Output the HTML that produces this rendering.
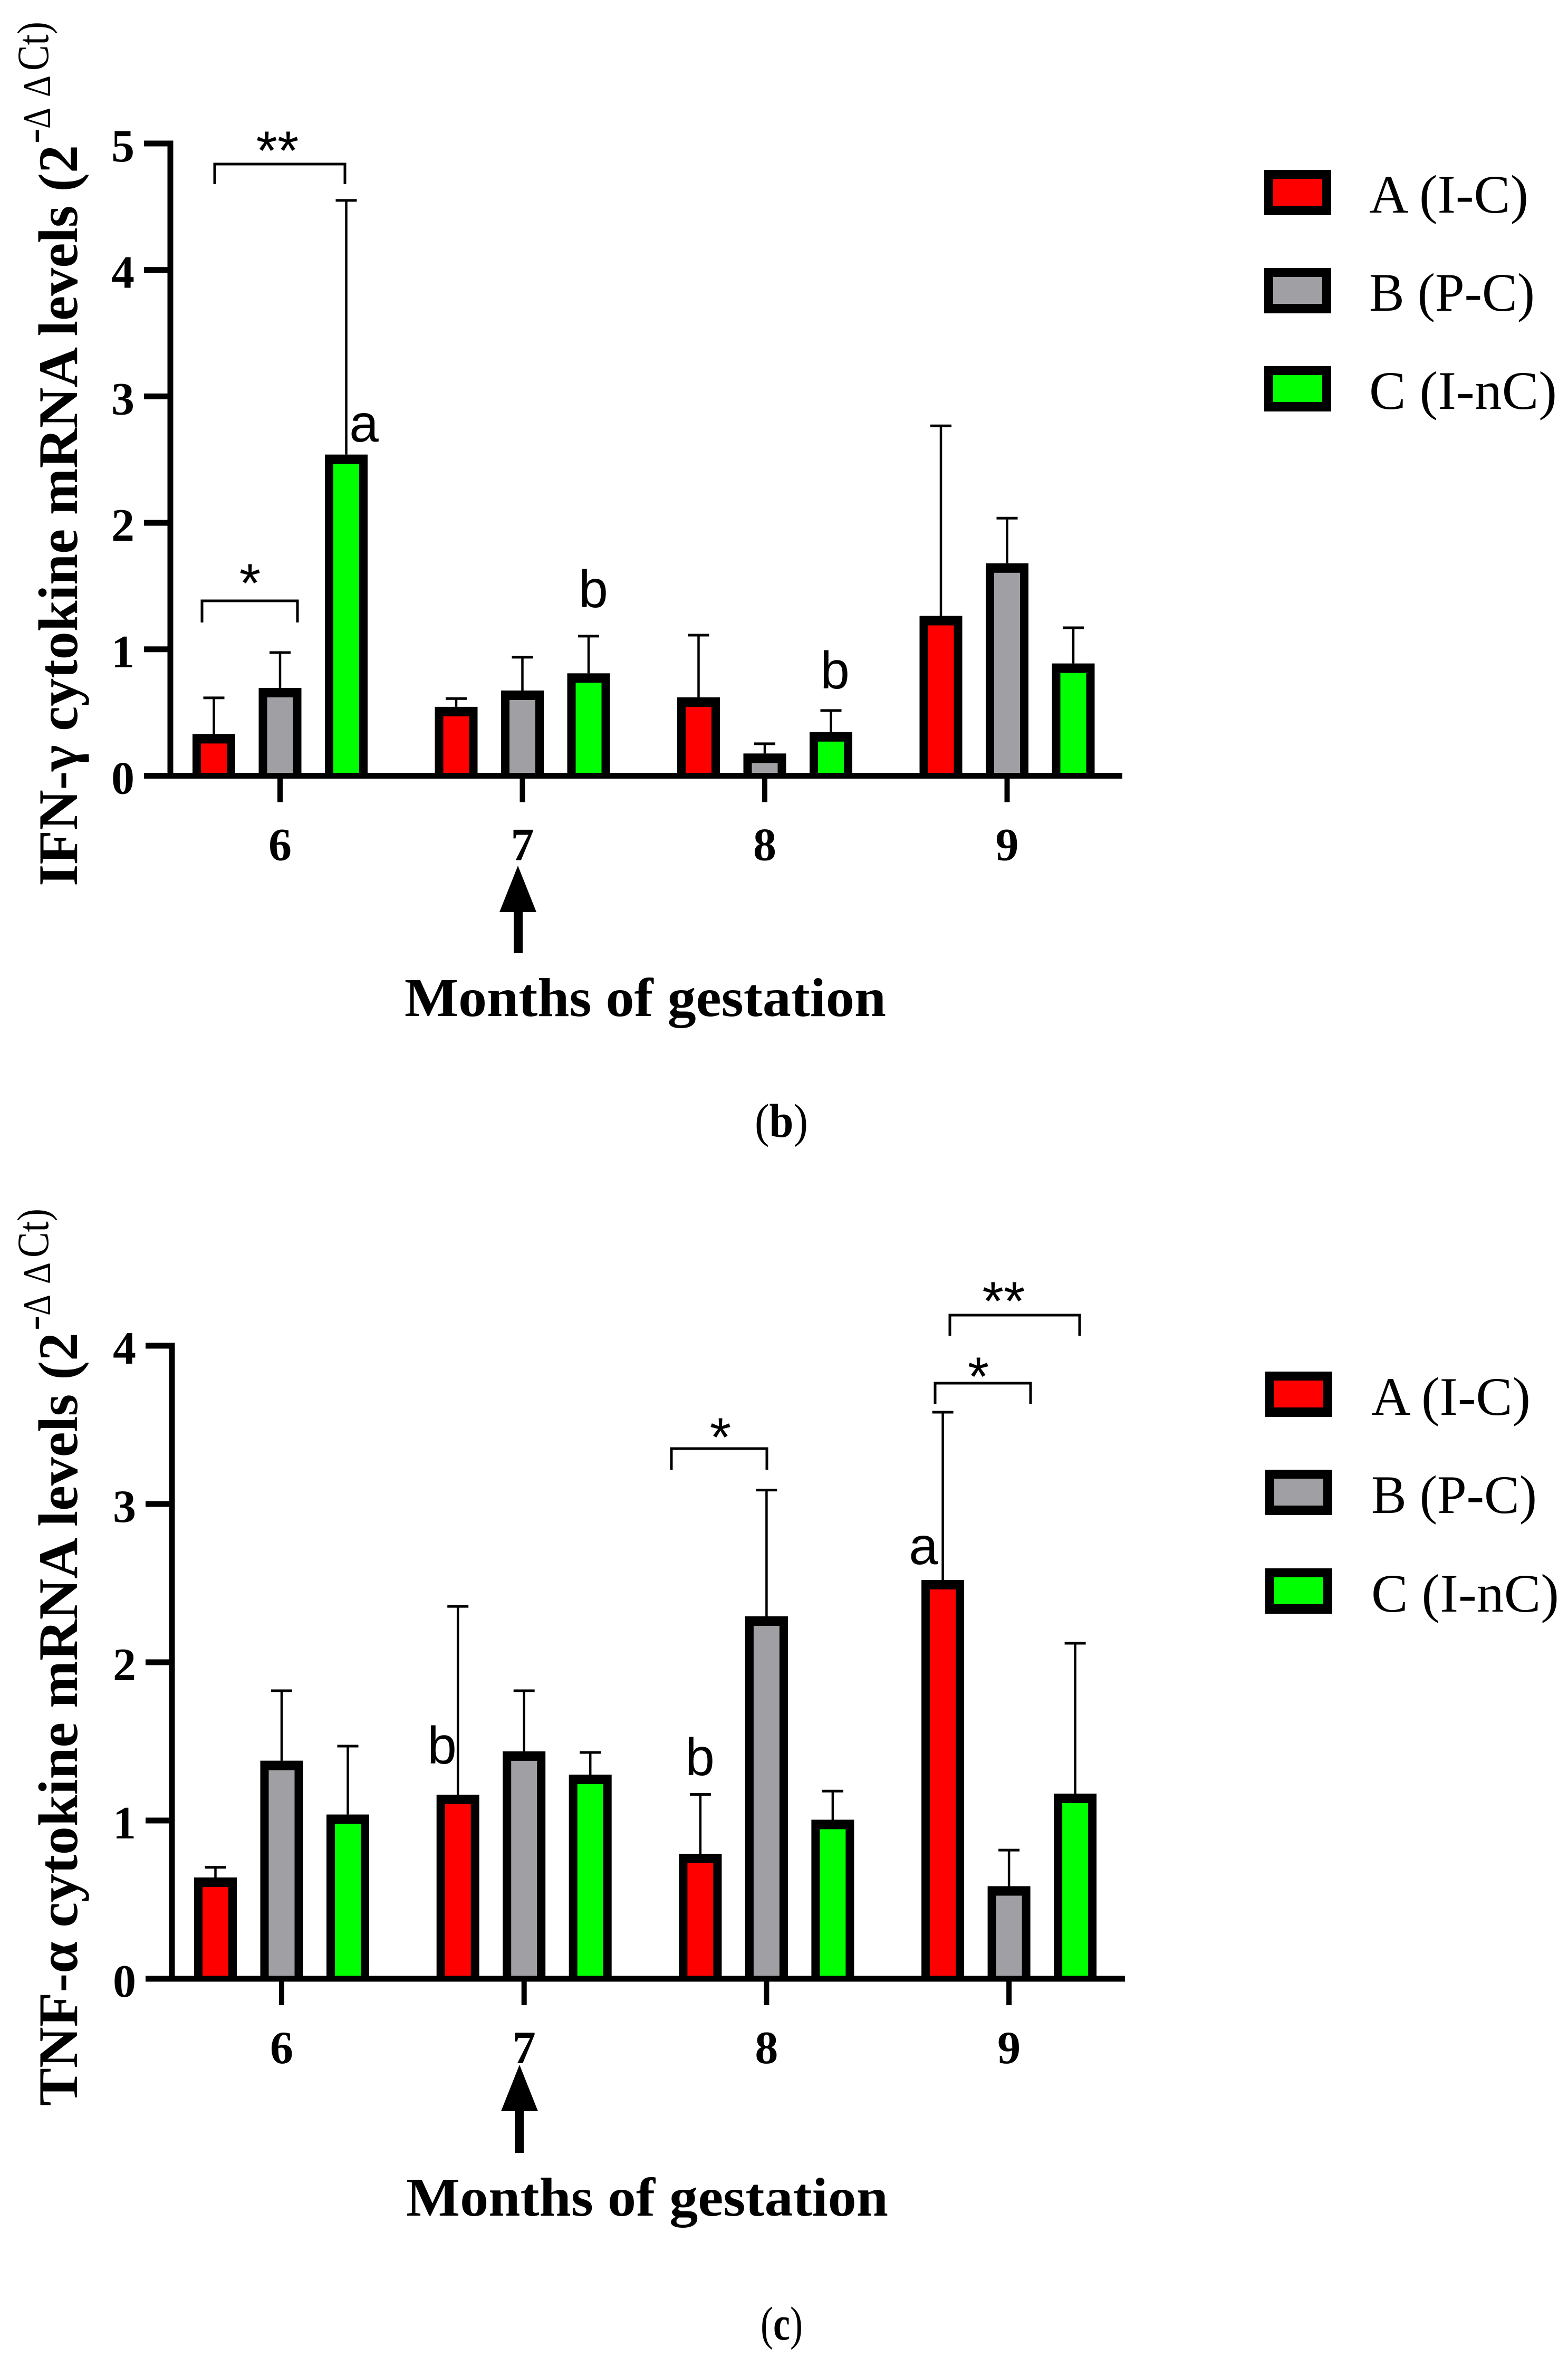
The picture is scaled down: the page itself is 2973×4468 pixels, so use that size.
<!DOCTYPE html>
<html lang="en">
<head>
<meta charset="utf-8">
<title>Cytokine mRNA levels across months of gestation</title>
<style>
html,body{margin:0;padding:0;background:#fff;}
svg{display:block;}
.serif{font-family:"Liberation Serif",serif;fill:#000;}
.bold{font-weight:bold;}
.sans{font-family:"Liberation Sans",sans-serif;fill:#000;}
.star{font-size:104px;text-anchor:middle;}
.letter{font-size:100px;text-anchor:middle;}
.legend-text{font-size:103px;}
.tick-label{font-size:88px;font-weight:bold;}
.bracket{fill:none;stroke:#000;stroke-width:5;}
</style>
</head>
<body>
<svg id="figure" xmlns="http://www.w3.org/2000/svg" width="2973" height="4468" viewBox="0 0 2973 4468">
  <rect x="0" y="0" width="2973" height="4468" fill="#ffffff"/>

  <!-- Panel b static annotations -->
  <g id="panel-b">
    <text class="serif bold" font-size="106" transform="translate(146,1680) rotate(-90)" textLength="1405" lengthAdjust="spacingAndGlyphs">IFN-γ cytokine mRNA levels (2</text>
    <g>
      <text class="serif" font-size="85" transform="translate(91,272) rotate(-90)">-</text>
      <text class="serif" font-size="74" transform="translate(95,244) rotate(-90)" textLength="40" lengthAdjust="spacingAndGlyphs">Δ</text>
      <text class="serif" font-size="74" transform="translate(95,184) rotate(-90)" textLength="41" lengthAdjust="spacingAndGlyphs">Δ</text>
      <text class="serif" font-size="85" transform="translate(91,134) rotate(-90)" textLength="93" lengthAdjust="spacingAndGlyphs">Ct)</text>
    </g>
    <path class="bracket" d="M407 349V311H654V349"/>
    <text class="sans star" x="526" y="321">**</text>
    <path class="bracket" d="M383 1180V1139H564V1180"/>
    <text class="sans star" x="474" y="1141">*</text>
    <text class="sans letter" x="690" y="837">a</text>
    <text class="sans letter" x="1125" y="1151">b</text>
    <text class="sans letter" x="1583" y="1305">b</text>
    <path fill="#000" d="M982 1641L1017 1729H991V1807H974V1729H947Z"/>
    <text class="serif bold" font-size="104" x="767" y="1926" textLength="913" lengthAdjust="spacingAndGlyphs">Months of gestation</text>
    <text class="serif" font-size="90" x="1431" y="2155" textLength="101" lengthAdjust="spacingAndGlyphs">(<tspan class="bold">b</tspan>)</text>
    <g>
      <g>
        <rect x="2397" y="322" width="127" height="86" fill="#000"/>
        <rect x="2414" y="339" width="93" height="51" fill="#ff0000"/>
        <text class="serif legend-text" x="2596" y="403" textLength="302" lengthAdjust="spacingAndGlyphs">A (I-C)</text>
      </g>
      <g>
        <rect x="2397" y="508" width="127" height="86" fill="#000"/>
        <rect x="2414" y="525" width="93" height="51" fill="#a0a0a4"/>
        <text class="serif legend-text" x="2596" y="589" textLength="314" lengthAdjust="spacingAndGlyphs">B (P-C)</text>
      </g>
      <g>
        <rect x="2397" y="694" width="127" height="86" fill="#000"/>
        <rect x="2414" y="711" width="93" height="51" fill="#00ff00"/>
        <text class="serif legend-text" x="2596" y="775" textLength="356" lengthAdjust="spacingAndGlyphs">C (I-nC)</text>
      </g>
    </g>
  </g>

  <!-- Panel c static annotations -->
  <g id="panel-c">
    <text class="serif bold" font-size="106" transform="translate(146,3992) rotate(-90)" textLength="1466" lengthAdjust="spacingAndGlyphs">TNF-α cytokine mRNA levels (2</text>
    <g>
      <text class="serif" font-size="85" transform="translate(91,2522) rotate(-90)">-</text>
      <text class="serif" font-size="74" transform="translate(95,2494) rotate(-90)" textLength="40" lengthAdjust="spacingAndGlyphs">Δ</text>
      <text class="serif" font-size="74" transform="translate(95,2434) rotate(-90)" textLength="41" lengthAdjust="spacingAndGlyphs">Δ</text>
      <text class="serif" font-size="85" transform="translate(91,2384) rotate(-90)" textLength="93" lengthAdjust="spacingAndGlyphs">Ct)</text>
    </g>
    <path class="bracket" d="M1273 2786V2746H1454V2786"/>
    <text class="sans star" x="1366" y="2760">*</text>
    <path class="bracket" d="M1773 2661V2622H1954V2661"/>
    <text class="sans star" x="1855" y="2645">*</text>
    <path class="bracket" d="M1801 2532V2493H2047V2532"/>
    <text class="sans star" x="1903" y="2502">**</text>
    <text class="sans letter" x="1751" y="2965">a</text>
    <text class="sans letter" x="838" y="3343">b</text>
    <text class="sans letter" x="1327" y="3365">b</text>
    <path fill="#000" d="M985 3914L1020 4002H993V4081H976V4002H950Z"/>
    <text class="serif bold" font-size="104" x="770" y="4200" textLength="914" lengthAdjust="spacingAndGlyphs">Months of gestation</text>
    <text class="serif" font-size="90" x="1442" y="4435" textLength="80" lengthAdjust="spacingAndGlyphs">(<tspan class="bold">c</tspan>)</text>
    <g>
      <g>
        <rect x="2399" y="2600" width="127" height="86" fill="#000"/>
        <rect x="2416" y="2617" width="93" height="51" fill="#ff0000"/>
        <text class="serif legend-text" x="2600" y="2682" textLength="302" lengthAdjust="spacingAndGlyphs">A (I-C)</text>
      </g>
      <g>
        <rect x="2399" y="2786" width="127" height="86" fill="#000"/>
        <rect x="2416" y="2803" width="93" height="51" fill="#a0a0a4"/>
        <text class="serif legend-text" x="2600" y="2868" textLength="314" lengthAdjust="spacingAndGlyphs">B (P-C)</text>
      </g>
      <g>
        <rect x="2399" y="2973" width="127" height="86" fill="#000"/>
        <rect x="2416" y="2990" width="93" height="51" fill="#00ff00"/>
        <text class="serif legend-text" x="2600" y="3055" textLength="356" lengthAdjust="spacingAndGlyphs">C (I-nC)</text>
      </g>
    </g>
  </g>
</svg>

<script>
// Shared categories
const months = ['6', '7', '8', '9'];
const seriesNames = ['A (I-C)', 'B (P-C)', 'C (I-nC)'];

// Panel b: IFN-gamma
const ifnTicks = [0, 1, 2, 3, 4, 5];
const ifnGroupA = [0.33, 0.545, 0.62, 1.264];
const ifnGroupB = [0.695, 0.674, 0.176, 1.68];
const ifnGroupC = [2.54, 0.81, 0.345, 0.888];
const ifnErrorA = [0.616, 0.61, 1.112, 2.767];
const ifnErrorB = [0.974, 0.937, 0.253, 2.037];
const ifnErrorC = [4.55, 1.104, 0.516, 1.17];

// Panel c: TNF-alpha
const tnfTicks = [0, 1, 2, 3, 4];
const tnfGroupA = [0.64, 1.163, 0.79, 2.52];
const tnfGroupB = [1.378, 1.437, 2.29, 0.585];
const tnfGroupC = [1.038, 1.29, 1.005, 1.17];
const tnfErrorA = [0.704, 2.353, 1.165, 3.58];
const tnfErrorB = [1.82, 1.82, 3.088, 0.813];
const tnfErrorC = [1.47, 1.43, 1.186, 2.12];

const SVG_NS = 'http://www.w3.org/2000/svg';
const seriesColors = ['#ff0000', '#a0a0a4', '#00ff00'];
const seriesKeys = ['a', 'b', 'c'];

function make(parent, tag, props) {
  const el = document.createElementNS(SVG_NS, tag);
  Object.keys(props).forEach(function (k) { el.setAttribute(k, props[k]); });
  parent.appendChild(el);
  return el;
}

function drawPanel(panelId, layout, ticks, cats, values, errors) {
  const panel = document.getElementById(panelId);
  const yScale = function (v) { return layout.y0 - v * layout.unit; };
  const xScale = function (i) { return layout.x0 + i * layout.step; };
  const barOffset = function (s) { return (s - 1) * layout.barGap; };
  const barW = 81, border = 16, capW = 40;

  const plot = make(panel, 'g', {});
  
  

  values.forEach(function (seriesVals, s) {
    const series = make(plot, 'g', {});
    
    
    seriesVals.forEach(function (v, i) {
      const cx = xScale(i) + barOffset(s);
      const top = yScale(v);
      const errTop = yScale(errors[s][i]);

      const errLine = make(series, 'line', { x1: cx, x2: cx, y1: top, y2: errTop, stroke: '#000', 'stroke-width': 4.5 });
      
      

      const cap = make(series, 'line', { x1: cx - capW / 2, x2: cx + capW / 2, y1: errTop, y2: errTop, stroke: '#000', 'stroke-width': 5 });
      
      

      const bar = make(series, 'rect', { x: cx - barW / 2, y: top, width: barW, height: layout.y0 - top, fill: '#000' });
      
      

      const fillH = Math.max(0, layout.y0 - top - border - 2);
      const fill = make(series, 'rect', { x: cx - barW / 2 + border, y: top + border + 2, width: barW - 2 * border, height: fillH, fill: seriesColors[s] });
      
      
    });
  });

  const yAxisTop = yScale(ticks[ticks.length - 1]) - 5.5;
  const yAxis = make(plot, 'rect', { x: layout.axisX - 5.5, y: yAxisTop, width: 11, height: layout.y0 - yAxisTop, fill: '#000' });
  
  

  const xAxis = make(plot, 'rect', { x: layout.axisX - 50, y: layout.y0 - 5.5, width: layout.xEnd - layout.axisX + 50, height: 11, fill: '#000' });
  
  

  ticks.forEach(function (t) {
    const ty = yScale(t);
    const tick = make(plot, 'rect', { x: layout.axisX - 50, y: ty - 5.5, width: 50, height: 11, fill: '#000' });
    
    

    const label = make(plot, 'text', { x: layout.axisX - 68, y: ty + 34, 'text-anchor': 'end', class: 'serif tick-label' });
    label.textContent = String(t);
    
    
  });

  cats.forEach(function (c, i) {
    const tx = xScale(i);
    const tick = make(plot, 'rect', { x: tx - 5, y: layout.y0, width: 10, height: 50, fill: '#000' });
    
    

    const label = make(plot, 'text', { x: tx, y: layout.y0 + 160, 'text-anchor': 'middle', class: 'serif tick-label' });
    label.textContent = c;
    
    
  });
}

drawPanel('panel-b',
  { x0: 531, step: 459.5, barGap: 125.5, y0: 1470.5, unit: 239.7, axisX: 323, xEnd: 2128 },
  ifnTicks, months,
  [ifnGroupA, ifnGroupB, ifnGroupC],
  [ifnErrorA, ifnErrorB, ifnErrorC]);

drawPanel('panel-c',
  { x0: 534, step: 459.7, barGap: 125.5, y0: 3751, unit: 300, axisX: 326, xEnd: 2133 },
  tnfTicks, months,
  [tnfGroupA, tnfGroupB, tnfGroupC],
  [tnfErrorA, tnfErrorB, tnfErrorC]);
</script>
</body>
</html>
